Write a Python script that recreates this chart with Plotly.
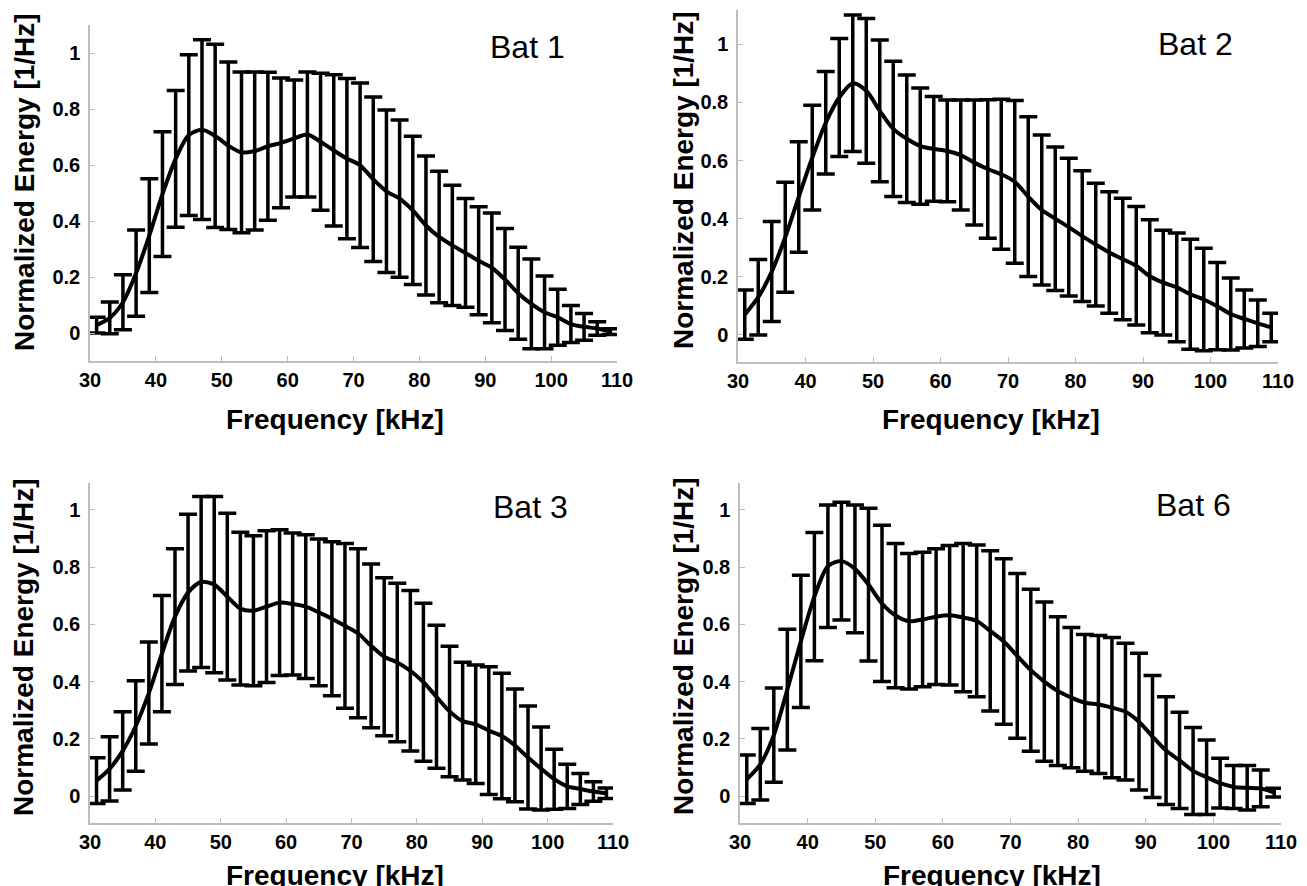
import plotly.graph_objects as go

# frequency grid of the error bars [kHz]
freq = [31, 33, 35, 37, 39, 41, 43, 45, 47, 49, 51, 53, 55, 57, 59, 61, 63, 65, 67, 69,
        71, 73, 75, 77, 79, 81, 83, 85, 87, 89, 91, 93, 95, 97, 99, 101, 103, 105, 107, 109]
x_ticks = [30, 40, 50, 60, 70, 80, 90, 100, 110]
y_ticks = [0, 0.2, 0.4, 0.6, 0.8, 1]
y_ticktext = ['0', '0.2', '0.4', '0.6', '0.8', '1']

bat1_mean = [0.028, 0.054, 0.110, 0.214, 0.348, 0.496, 0.622, 0.707, 0.726, 0.704,
             0.669, 0.645, 0.650, 0.667, 0.679, 0.695, 0.709, 0.683, 0.652, 0.623,
             0.599, 0.549, 0.506, 0.480, 0.438, 0.384, 0.343, 0.313, 0.286, 0.258,
             0.233, 0.191, 0.142, 0.104, 0.074, 0.056, 0.032, 0.022, 0.016, 0.005]
bat1_sd = [0.028, 0.057, 0.098, 0.154, 0.203, 0.223, 0.244, 0.287, 0.321, 0.327,
           0.299, 0.287, 0.282, 0.264, 0.232, 0.209, 0.223, 0.245, 0.270, 0.286,
           0.294, 0.294, 0.290, 0.281, 0.265, 0.248, 0.235, 0.215, 0.194, 0.193,
           0.196, 0.182, 0.164, 0.160, 0.130, 0.100, 0.066, 0.048, 0.024, 0.010]

bat2_mean = [0.070, 0.130, 0.218, 0.336, 0.475, 0.610, 0.730, 0.817, 0.866, 0.840,
             0.771, 0.709, 0.675, 0.650, 0.640, 0.633, 0.619, 0.593, 0.571, 0.553,
             0.527, 0.476, 0.430, 0.400, 0.371, 0.340, 0.311, 0.284, 0.261, 0.238,
             0.202, 0.180, 0.164, 0.140, 0.122, 0.099, 0.072, 0.055, 0.040, 0.026]
bat2_sd = [0.085, 0.130, 0.172, 0.189, 0.190, 0.180, 0.176, 0.203, 0.235, 0.249,
           0.244, 0.233, 0.219, 0.200, 0.180, 0.175, 0.189, 0.215, 0.238, 0.258,
           0.280, 0.275, 0.258, 0.247, 0.237, 0.225, 0.211, 0.209, 0.209, 0.204,
           0.194, 0.180, 0.187, 0.189, 0.176, 0.150, 0.124, 0.100, 0.080, 0.049]

bat3_mean = [0.054, 0.095, 0.158, 0.245, 0.360, 0.498, 0.627, 0.711, 0.748, 0.739,
             0.697, 0.655, 0.648, 0.662, 0.676, 0.671, 0.662, 0.642, 0.620, 0.595,
             0.569, 0.525, 0.487, 0.467, 0.438, 0.398, 0.347, 0.296, 0.262, 0.251,
             0.229, 0.210, 0.177, 0.135, 0.096, 0.059, 0.034, 0.025, 0.016, 0.010]
bat3_sd = [0.080, 0.112, 0.137, 0.158, 0.178, 0.203, 0.237, 0.274, 0.299, 0.308,
           0.291, 0.267, 0.262, 0.265, 0.255, 0.248, 0.251, 0.256, 0.269, 0.288,
           0.295, 0.286, 0.276, 0.277, 0.280, 0.276, 0.250, 0.228, 0.206, 0.207,
           0.223, 0.219, 0.197, 0.180, 0.145, 0.105, 0.077, 0.054, 0.034, 0.018]

bat6_mean = [0.059, 0.111, 0.213, 0.372, 0.541, 0.697, 0.803, 0.821, 0.794, 0.739,
             0.673, 0.631, 0.611, 0.617, 0.627, 0.632, 0.624, 0.612, 0.577, 0.540,
             0.490, 0.440, 0.400, 0.367, 0.344, 0.326, 0.320, 0.309, 0.295, 0.260,
             0.208, 0.159, 0.125, 0.088, 0.066, 0.045, 0.032, 0.029, 0.027, 0.012]
bat6_sd = [0.085, 0.125, 0.165, 0.211, 0.231, 0.224, 0.214, 0.206, 0.223, 0.267,
           0.273, 0.252, 0.237, 0.235, 0.237, 0.244, 0.259, 0.265, 0.280, 0.289,
           0.288, 0.283, 0.278, 0.260, 0.245, 0.239, 0.241, 0.245, 0.239, 0.239,
           0.213, 0.188, 0.168, 0.152, 0.130, 0.087, 0.075, 0.078, 0.064, 0.015]

bat_names = ['Bat 1', 'Bat 2', 'Bat 3', 'Bat 6']
means = [bat1_mean, bat2_mean, bat3_mean, bat6_mean]
sds = [bat1_sd, bat2_sd, bat3_sd, bat6_sd]

W, H = 1307, 886
OFF = 8  # page body margin shifts the figure by 8px
FONT = 'Arial, Liberation Sans, sans-serif'
AXCOL = '#bdbdbd'

# panel placement in screen pixels (left, right), (top, bottom) and y ranges
x_px = [(90, 617), (738, 1278), (90, 613), (740, 1281)]
y_px = [(25, 361), (10, 362), (483, 823), (483, 823)]
y_ranges = [[-0.1, 1.1], [-0.093, 1.118], [-0.094, 1.094], [-0.094, 1.094]]
label_px = [(527, 47), (1195, 44), (530, 507), (1193, 505)]
ytitle_px = [(25, 182), (683, 180), (23, 647), (683, 646)]
xtitle_px = [(335, 420), (991, 420), (335, 875), (992, 875)]


def px(x, y):
    return (x - OFF) / W, 1 - (y - OFF) / H


fig = go.Figure()
annotations = []
for i in range(4):
    sfx = '' if i == 0 else str(i + 1)
    fig.add_trace(go.Scatter(
        x=freq, y=means[i], mode='lines',
        line=dict(color='black', width=4, shape='spline', smoothing=0.8),
        error_y=dict(type='data', array=sds[i], visible=True,
                     color='black', thickness=3.5, width=9),
        xaxis='x' + sfx, yaxis='y' + sfx, showlegend=False, cliponaxis=False))

    x0, _ = px(x_px[i][0], 0)
    x1, _ = px(x_px[i][1], 0)
    _, y1 = px(0, y_px[i][0])
    _, y0 = px(0, y_px[i][1])
    tickfont = dict(family=FONT, size=20, color='black', weight='bold')
    fig.update_layout(**{
        'xaxis' + sfx: dict(domain=[x0, x1], range=[30, 110], tickvals=x_ticks,
                            ticks='inside', ticklen=5, tickcolor=AXCOL,
                            showline=True, linecolor=AXCOL, linewidth=1.5,
                            showgrid=False, zeroline=False, tickfont=tickfont,
                            automargin=False, anchor='y' + sfx),
        'yaxis' + sfx: dict(domain=[y0, y1], range=y_ranges[i], tickvals=y_ticks,
                            ticktext=y_ticktext, ticks='inside', ticklen=5,
                            tickcolor=AXCOL, showline=True, linecolor=AXCOL,
                            linewidth=1.5, showgrid=False, zeroline=False,
                            tickfont=tickfont, ticklabelstandoff=4,
                            automargin=False, anchor='x' + sfx),
    })

    lx, ly = px(*label_px[i])
    annotations.append(dict(x=lx, y=ly, xref='paper', yref='paper', text=bat_names[i],
                            showarrow=False, xanchor='center', yanchor='middle',
                            font=dict(family=FONT, size=32, color='black')))
    tx, ty = px(*ytitle_px[i])
    annotations.append(dict(x=tx, y=ty, xref='paper', yref='paper',
                            text='<b>Normalized Energy [1/Hz]</b>', textangle=-90,
                            showarrow=False, xanchor='center', yanchor='middle',
                            font=dict(family=FONT, size=28, color='black')))
    fx, fy = px(*xtitle_px[i])
    annotations.append(dict(x=fx, y=fy, xref='paper', yref='paper',
                            text='<b>Frequency [kHz]</b>',
                            showarrow=False, xanchor='center', yanchor='middle',
                            font=dict(family=FONT, size=28, color='black')))

fig.update_layout(width=W, height=H, margin=dict(l=0, r=0, t=0, b=0),
                  paper_bgcolor='white', plot_bgcolor='white',
                  annotations=annotations)

fig.write_html("out.html")
